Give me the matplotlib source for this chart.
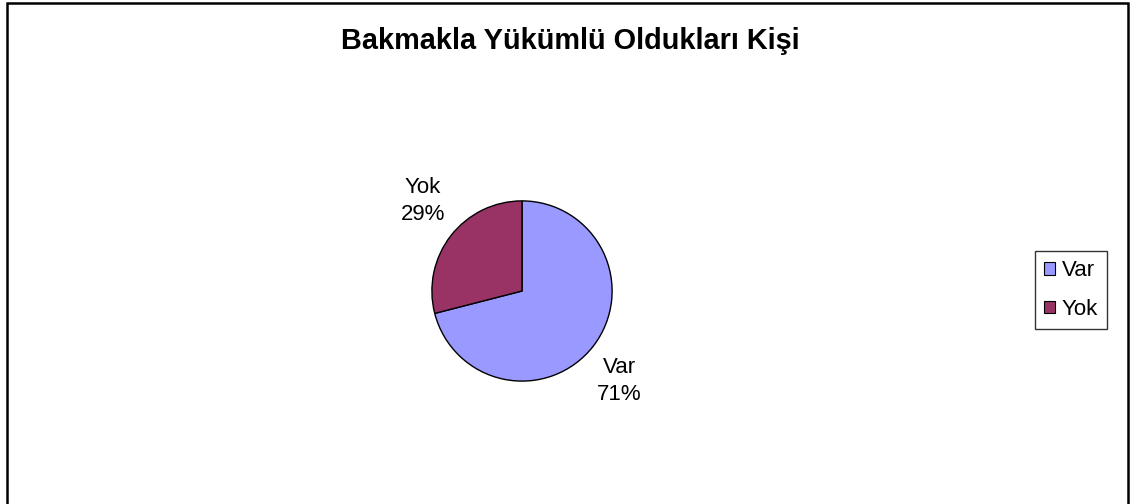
import matplotlib.pyplot as plt
from matplotlib.patches import Rectangle

# ── Data ──
categories = ['Var', 'Yok']
percentages = [71, 29]
colors = ['#9999FF', '#993366']
title = 'Bakmakla Yükümlü Oldukları Kişi'

plt.rcParams['font.family'] = ['Liberation Sans', 'DejaVu Sans']

fig = plt.figure(figsize=(11.32, 5.04), dpi=100)

# outer frame
fig.patches.append(Rectangle((7 / 1132, -0.01), 1121 / 1132, 1.0 - 3 / 504 + 0.01,
                             transform=fig.transFigure, fill=False,
                             edgecolor='black', linewidth=1.8))

fig.text(570 / 1132, 1 - 41 / 504, title, ha='center', va='center',
         fontsize=20.8, fontweight='bold')

# ── Pie ──
r = 91
cx, cy = 522, 291
ax = fig.add_axes([(cx - r) / 1132, 1 - (cy + r) / 504, 2 * r / 1132, 2 * r / 504])
labels = [f'{c}\n{p}%' for c, p in zip(categories, percentages)]
wedges, texts = ax.pie(percentages, colors=colors, startangle=90, counterclock=False,
                       labels=labels, labeldistance=1.45,
                       wedgeprops=dict(edgecolor='black', linewidth=1.0),
                       textprops=dict(fontsize=16, linespacing=1.4))
for t in texts:
    t.set_ha('center')
    t.set_va('center')
# nudge labels to match the reference placement
texts[0].set_position((1.08, -1.0))
texts[1].set_position((-1.1, 1.0))
ax.set_xlim(-1.01, 1.01)
ax.set_ylim(-1.01, 1.01)
ax.set_aspect('equal')

# ── Legend ──
leg = fig.legend(wedges, categories, loc='center left',
                 bbox_to_anchor=(1035 / 1132, 1 - 290 / 504),
                 fontsize=16, frameon=True, fancybox=False, handlelength=0.5,
                 handleheight=0.5, handletextpad=0.3, labelspacing=0.8,
                 borderpad=0.4, borderaxespad=0.0)
leg.get_frame().set_edgecolor('black')
leg.get_frame().set_linewidth(1.0)
for h in leg.legend_handles:
    h.set_edgecolor('black')
    h.set_linewidth(0.8)

fig.savefig('out.png', dpi=100, facecolor='white')
